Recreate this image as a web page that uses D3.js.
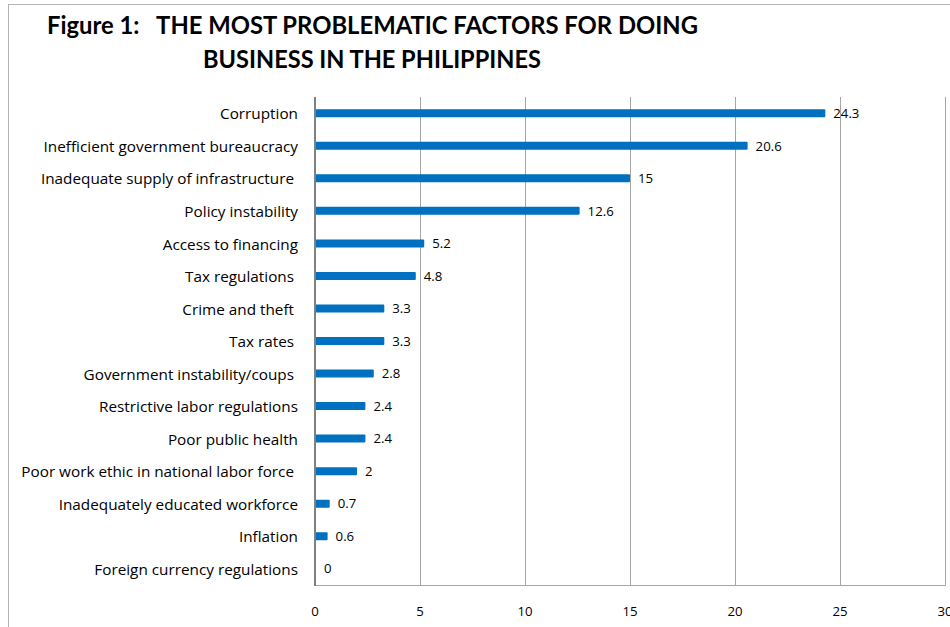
<!DOCTYPE html>
<html>
<head>
<meta charset="utf-8">
<script src="https://cdn.jsdelivr.net/npm/d3@7"></script>
<style>
  html, body { margin: 0; padding: 0; background: #fff; }
  svg { display: block; }
  text { font-family: "Open Sans", "Noto Sans", sans-serif; fill: #000; font-variant-ligatures: none; }
  .title { font-family: Lato, "Open Sans", sans-serif; }
</style>
</head>
<body>
<svg id="chart" width="950" height="627"></svg>
<script>
const categories = [
  "Corruption",
  "Inefficient government bureaucracy",
  "Inadequate supply of infrastructure ",
  "Policy instability",
  "Access to financing",
  "Tax regulations ",
  "Crime and theft ",
  "Tax rates ",
  "Government instability/coups ",
  "Restrictive labor regulations",
  "Poor public health",
  "Poor work ethic in national labor force ",
  "Inadequately educated workforce",
  "Inflation",
  "Foreign currency regulations"
];
const values = [24.3, 20.6, 15, 12.6, 5.2, 4.8, 3.3, 3.3, 2.8, 2.4, 2.4, 2, 0.7, 0.6, 0];
const xTicks = [0, 5, 10, 15, 20, 25, 30];
const titleLines = ["Figure 1:   THE MOST PROBLEMATIC FACTORS FOR DOING", "BUSINESS IN THE PHILIPPINES"];

const svg = d3.select("#chart");
const m = { left: 315, right: 945, top: 97, bottom: 585 };

// outer frame
svg.append("rect")
  .attr("x", 8.5).attr("y", 4.5).attr("width", 1000).attr("height", 1000)
  .attr("fill", "none").attr("stroke", "#b4b4b4").attr("stroke-width", 1);

// title
svg.append("text").attr("class", "title").attr("x", 47).attr("y", 34)
  .attr("font-size", 25).attr("font-weight", "bold")
  .attr("textLength", 651).attr("lengthAdjust", "spacingAndGlyphs")
  .style("white-space", "pre")
  .text(titleLines[0]);
svg.append("text").attr("class", "title").attr("x", 203).attr("y", 68)
  .attr("font-size", 25).attr("font-weight", "bold")
  .attr("textLength", 338).attr("lengthAdjust", "spacingAndGlyphs")
  .text(titleLines[1]);

const x = d3.scaleLinear().domain([0, 30]).range([m.left, m.right]);
const y = d3.scaleBand().domain(categories).range([m.top, m.bottom]);

// gridlines
svg.append("g").selectAll("line").data(xTicks.slice(1)).join("line")
  .attr("x1", d => Math.round(x(d)) + 0.5).attr("x2", d => Math.round(x(d)) + 0.5)
  .attr("y1", m.top).attr("y2", m.bottom + 1)
  .attr("stroke", "#a6a6a6").attr("stroke-width", 1);

// bottom border
svg.append("line")
  .attr("x1", m.left).attr("x2", Math.round(x(30)) + 1)
  .attr("y1", m.bottom + 0.5).attr("y2", m.bottom + 0.5)
  .attr("stroke", "#a6a6a6").attr("stroke-width", 1);

// bars
const bh = 8;
svg.append("g").selectAll("rect").data(values).join("rect")
  .attr("x", x(0))
  .attr("y", (d, i) => y(categories[i]) + y.bandwidth() / 2 - bh / 2)
  .attr("width", d => x(d) - x(0))
  .attr("height", bh)
  .attr("rx", 1)
  .attr("fill", "#0070C0");

// value labels
svg.append("g").selectAll("text").data(values).join("text")
  .attr("x", d => x(d) + (d === 0 ? 9 : 8))
  .attr("y", (d, i) => y(categories[i]) + y.bandwidth() / 2)
  .attr("dy", "0.36em")
  .attr("font-size", 13.2)
  .text(d => d);

// left axis line
svg.append("line")
  .attr("x1", m.left).attr("x2", m.left)
  .attr("y1", m.top).attr("y2", m.bottom + 1)
  .attr("stroke", "#808080").attr("stroke-width", 2);

// category labels
svg.append("g").selectAll("text").data(categories).join("text")
  .attr("x", 298)
  .attr("y", d => y(d) + y.bandwidth() / 2)
  .attr("dy", "0.4em")
  .attr("text-anchor", "end")
  .attr("font-size", 15.3)
  .style("white-space", "pre")
  .text(d => d);

// x tick labels
svg.append("g").selectAll("text").data(xTicks).join("text")
  .attr("x", d => x(d))
  .attr("y", 611)
  .attr("dy", "0.35em")
  .attr("text-anchor", "middle")
  .attr("font-size", 13.2)
  .text(d => d);
</script>
</body>
</html>
